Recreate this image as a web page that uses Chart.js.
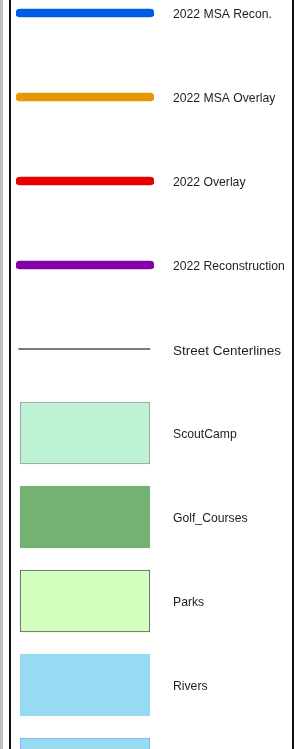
<!DOCTYPE html>
<html>
<head>
<meta charset="utf-8">
<script src="https://cdn.jsdelivr.net/npm/chart.js@4.4.0/dist/chart.umd.min.js"></script>
<style>
  html, body { margin: 0; padding: 0; background: #fff; }
  #frame { position: relative; width: 295px; height: 749px; overflow: hidden; background: #fff; }
  .edge { position: absolute; top: 0; height: 749px; }
  #legend { position: absolute; left: 0; top: -29px; }
</style>
</head>
<body>
<div id="frame">
  <div class="edge" style="left:0;width:3px;background:#bdbdbd"></div>
  <div class="edge" style="left:9px;width:2px;background:#111"></div>
  <div class="edge" style="left:292px;width:2px;background:#111"></div>
  <canvas id="legend" width="295" height="840"></canvas>
</div>
<script>
// legend rows, top to bottom (last one is cut off by the window)
const categories = [
  '2022 MSA Recon.',
  '2022 MSA Overlay',
  '2022 Overlay',
  '2022 Reconstruction',
  'Street Centerlines',
  'ScoutCamp',
  'Golf_Courses',
  'Parks',
  'Rivers',
  ''
];
const swatchKind  = ['thick', 'thick', 'thick', 'thick', 'thin', 'fill', 'fill', 'fill', 'fill', 'fill'];
const swatchStart = [0, 0, 0, 0, 2, 3, 3, 3, 3, 3];
const swatchEnd   = [100, 100, 100, 100, 97, 97, 97, 97, 97, 97];

const fillColors = ['#005ce6', '#e69800', '#e60000', '#8400a8', '#7a7a7a',
                    '#bef2d5', '#73b273', '#d3ffbe', '#97dbf2', '#97dbf2'];
const edgeColors = ['#005ce6', '#e69800', '#e60000', '#8400a8', '#7a7a7a',
                    '#9a9a9a', '#73b273', '#5a5a5a', '#97dbf2', '#86aef5'];

const FONT = '"Liberation Sans", Arial, sans-serif';

function rowsOf(kind) {
  return categories.map((c, i) => swatchKind[i] === kind ? [swatchStart[i], swatchEnd[i]] : null);
}

const ctx = document.getElementById('legend');
new Chart(ctx, {
  type: 'bar',
  data: {
    labels: categories,
    datasets: [
      {
        label: 'lines',
        data: rowsOf('thick'),
        backgroundColor: fillColors,
        borderWidth: 0,
        borderRadius: 4,
        borderSkipped: false,
        barThickness: 8
      },
      {
        label: 'street',
        data: rowsOf('thin'),
        backgroundColor: fillColors,
        borderWidth: 0,
        borderSkipped: false,
        barThickness: 1.3
      },
      {
        label: 'areas',
        data: rowsOf('fill'),
        backgroundColor: fillColors,
        borderColor: edgeColors,
        borderWidth: 1,
        borderSkipped: false,
        barThickness: 62
      }
    ]
  },
  options: {
    indexAxis: 'y',
    responsive: false,
    animation: false,
    events: [],
    grouped: false,
    layout: { padding: { left: 16, right: 0, top: 0, bottom: 0 } },
    scales: {
      x: {
        display: false,
        min: 0,
        max: 100
      },
      y: {
        position: 'right',
        offset: true,
        grid: { display: false, drawTicks: false },
        border: { display: false },
        afterFit(scale) {
          scale.width = 141;
          scale.paddingTop = 0;
          scale.paddingBottom = 0;
        },
        ticks: {
          autoSkip: false,
          padding: 19,
          labelOffset: 2,
          color: '#1e1e1e',
          font: (c) => ({ family: FONT, size: c.index === 4 ? 13.5 : 12.2 })
        }
      }
    },
    plugins: {
      legend: { display: false },
      tooltip: { enabled: false }
    }
  }
});
</script>
</body>
</html>
